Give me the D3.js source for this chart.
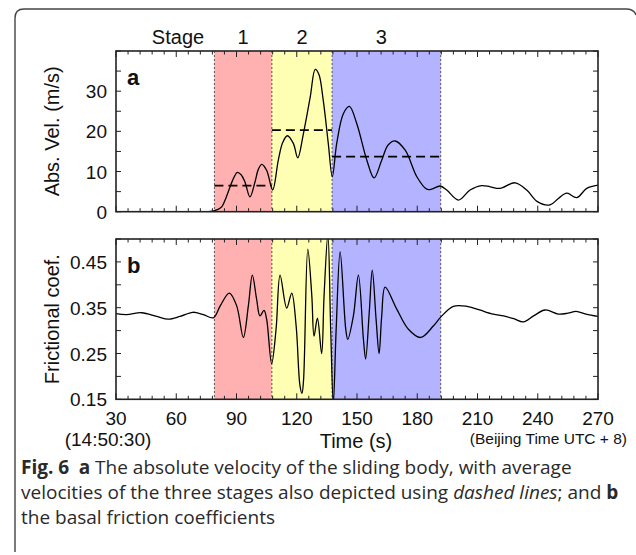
<!DOCTYPE html>
<html>
<head>
<meta charset="utf-8">
<script src="https://cdn.jsdelivr.net/npm/d3@7"></script>
<style>
  body { margin: 0; background: #fff; }
  svg text { font-family: "Liberation Sans", Arial, sans-serif; fill: #111; }
  .caption text { font-family: "Open Sans", "Noto Sans", sans-serif; fill: #2a2a2a; }
</style>
</head>
<body>
<div id="chart"></div>
<script>
// Stage boundaries (s) and average velocities per stage (m/s)
const stageBounds = [79, 107.6, 137.6, 191.7];
const stageNames = ["1", "2", "3"];
const stageColors = ["#ffb0b0", "#ffffb4", "#b3b3ff"];
const stageAvg = [6.5, 20.3, 13.7];

// Panel a: absolute velocity
const velTime = [30, 60, 76, 78.5, 80.5, 82.6, 84.8, 86.8, 88.8, 90.4, 92.3, 94.2, 96.7, 99.2, 100.9, 102.6, 105.0, 108.0,
  110.8, 113.0, 115.3, 118.3, 120.5, 123.3, 126.7, 129.2, 131.0, 133.2, 135.7, 137.7, 139.9, 143.2, 146.2, 149.9,
  154.9, 158.5, 162.3, 165.5, 169.0, 174.0, 179.8, 184.7, 187.2, 191.4, 194.7, 200.5, 206.3, 212.1, 216.3, 221.2,
  228.7, 234.5, 239.8, 246.1, 250.3, 254.5, 259.4, 264.4, 270];
const velValue = [0, 0, 0, 0.2, 0.5, 1.2, 3.5, 6.2, 8.6, 9.8, 9.2, 7.4, 3.7, 7.4, 10.6, 11.8, 10.3, 5.4,
  12.8, 17.2, 18.9, 17.0, 13.4, 19.4, 28.5, 35.4, 34.2, 27.7, 17.0, 8.7, 17.0, 24.4, 26.2, 21.9,
  12.8, 8.4, 12.8, 16.6, 17.6, 15.3, 8.7, 5.6, 5.6, 6.4, 5.4, 2.9, 5.4, 6.5, 6.2, 5.8,
  7.2, 5.4, 2.5, 1.7, 3.3, 4.6, 3.5, 5.8, 6.6];

// Panel b: frictional coefficient
const fricTime = [30, 35.3, 42.8, 50.3, 56.0, 61.9, 68.2, 73.5, 78.5, 81.9, 86.4, 90.1, 93.4, 95.9, 97.9, 100.0, 101.7,
  103.7, 105.0, 107.5, 109.7, 111.7, 115.0, 117.5, 119.7, 121.6, 122.6, 123.4, 125.5, 127.5, 128.6, 130.3, 132.4, 133.6,
  135.5, 136.9, 138.2, 139.6, 141.6, 144.4, 145.4, 148.2, 150.7, 153.2, 154.3, 156.1, 157.6, 159.5, 161.0, 162.3,
  164.0, 169.8, 175.6, 181.7, 188.0, 192.0, 198.0, 204.7, 211.0, 217.9, 223.0, 228.0, 232.9, 237.9, 243.7, 250.3,
  255.0, 259.1, 264.0, 270];
const fricValue = [0.337, 0.335, 0.339, 0.331, 0.325, 0.331, 0.340, 0.335, 0.328, 0.354, 0.382, 0.354, 0.285, 0.354, 0.421, 0.369, 0.332,
  0.344, 0.325, 0.228, 0.303, 0.421, 0.349, 0.382, 0.310, 0.180, 0.163, 0.193, 0.478, 0.376, 0.288, 0.327, 0.250, 0.376,
  0.510, 0.303, 0.140, 0.300, 0.472, 0.303, 0.281, 0.332, 0.421, 0.281, 0.238, 0.340, 0.432, 0.325, 0.250, 0.332,
  0.395, 0.347, 0.303, 0.285, 0.310, 0.331, 0.353, 0.353, 0.345, 0.336, 0.332, 0.326, 0.319, 0.332, 0.345, 0.336,
  0.338, 0.342, 0.336, 0.331];

// Axis ticks
const xTicks = [30, 60, 90, 120, 150, 180, 210, 240, 270];
const velTicks = [0, 10, 20, 30];
const fricTicks = [0.15, 0.25, 0.35, 0.45];
const fricTickLabels = ["0.15", "0.25", "0.35", "0.45"];

const W = 636, H = 555;
const left = 116, right = 598;

const svg = d3.select("#chart").append("svg")
  .attr("width", W).attr("height", H);

// Outer rounded border (open at the bottom)
svg.append("path")
  .attr("d", "M15,552 L15,18 Q15,9 24,9 L626,9 Q634,9 636,15")
  .attr("fill", "none").attr("stroke", "#444").attr("stroke-width", 1.4);

const x = d3.scaleLinear().domain([30, 270]).range([left, right]);

function panel(top, bottom, yDomain, tickVals, tickLabels, minorStep, times, values, avg, tag, ylabel, id) {
  const y = d3.scaleLinear().domain(yDomain).range([bottom, top]);
  const g = svg.append("g");

  g.append("clipPath").attr("id", id)
    .append("rect").attr("x", left).attr("y", top).attr("width", right - left).attr("height", bottom - top);

  // Stage shading
  stageNames.forEach((s, i) => {
    g.append("rect")
      .attr("x", x(stageBounds[i])).attr("y", top)
      .attr("width", x(stageBounds[i + 1]) - x(stageBounds[i]))
      .attr("height", bottom - top)
      .attr("fill", stageColors[i]);
  });
  stageBounds.forEach(b => {
    g.append("line")
      .attr("x1", x(b)).attr("x2", x(b)).attr("y1", top).attr("y2", bottom)
      .attr("stroke", "#555").attr("stroke-width", 1).attr("stroke-dasharray", "2,2");
  });

  // Average velocity dashes
  if (avg) {
    avg.forEach((v, i) => {
      g.append("line")
        .attr("x1", x(stageBounds[i])).attr("x2", x(stageBounds[i + 1]))
        .attr("y1", y(v)).attr("y2", y(v))
        .attr("stroke", "#000").attr("stroke-width", 1.6).attr("stroke-dasharray", "9,5");
    });
  }

  // Curve
  const line = d3.line()
    .x((d, i) => x(times[i]))
    .y(d => y(d))
    .curve(d3.curveCatmullRom.alpha(0.5));
  g.append("path")
    .datum(values)
    .attr("clip-path", `url(#${id})`)
    .attr("fill", "none").attr("stroke", "#000").attr("stroke-width", 1.3)
    .attr("d", line);

  // Ticks (all inward, mirrored on all four sides)
  const xMinor = d3.range(30, 271, 6);
  const axisCol = "#222";
  xMinor.forEach(t => {
    const len = (t - 30) % 30 === 0 ? 6 : 3.5;
    g.append("line").attr("x1", x(t)).attr("x2", x(t)).attr("y1", bottom).attr("y2", bottom - len)
      .attr("stroke", axisCol).attr("stroke-width", 1);
    g.append("line").attr("x1", x(t)).attr("x2", x(t)).attr("y1", top).attr("y2", top + len)
      .attr("stroke", axisCol).attr("stroke-width", 1);
  });
  const yMinor = d3.range(yDomain[0], yDomain[1] + 1e-9, minorStep);
  yMinor.forEach(v => {
    g.append("line").attr("x1", left).attr("x2", left + 5).attr("y1", y(v)).attr("y2", y(v))
      .attr("stroke", axisCol).attr("stroke-width", 1);
    g.append("line").attr("x1", right).attr("x2", right - 5).attr("y1", y(v)).attr("y2", y(v))
      .attr("stroke", axisCol).attr("stroke-width", 1);
  });

  // Frame
  g.append("rect").attr("x", left).attr("y", top).attr("width", right - left).attr("height", bottom - top)
    .attr("fill", "none").attr("stroke", "#222").attr("stroke-width", 1.6);

  // Y tick labels
  tickVals.forEach((v, i) => {
    g.append("text").attr("x", left - 9).attr("y", y(v) + 7)
      .attr("text-anchor", "end").style("font-size", "19px")
      .text(tickLabels[i]);
  });

  // Panel tag
  g.append("text").attr("x", 127).attr("y", top + 34)
    .style("font-size", "22px").style("font-weight", "bold").text(tag);

  // Y axis label
  g.append("text")
    .attr("transform", `translate(59,${(top + bottom) / 2}) rotate(-90)`)
    .attr("text-anchor", "middle").style("font-size", "20px")
    .text(ylabel);
  return y;
}

panel(51, 211.7, [0, 40], velTicks, velTicks.map(String), 5, velTime, velValue, stageAvg, "a", "Abs. Vel. (m/s)", "clipA");
panel(239, 399.3, [0.15, 0.5], fricTicks, fricTickLabels, 0.05, fricTime, fricValue, null, "b", "Frictional coef.", "clipB");

// Stage labels
svg.append("text").attr("x", 178).attr("y", 44).attr("text-anchor", "middle")
  .style("font-size", "20px").text("Stage");
stageNames.forEach((s, i) => {
  svg.append("text")
    .attr("x", (x(stageBounds[i]) + x(stageBounds[i + 1])) / 2 - (i === 2 ? 5 : 0))
    .attr("y", 44).attr("text-anchor", "middle")
    .style("font-size", "20px").text(s);
});

// X tick labels
xTicks.forEach(t => {
  svg.append("text").attr("x", x(t)).attr("y", 425).attr("text-anchor", "middle")
    .style("font-size", "19px").text(t);
});
svg.append("text").attr("x", 108).attr("y", 446).attr("text-anchor", "middle")
  .style("font-size", "19px").text("(14:50:30)");
svg.append("text").attr("x", 356).attr("y", 448).attr("text-anchor", "middle")
  .style("font-size", "20px").text("Time (s)");
svg.append("text").attr("x", 627).attr("y", 444).attr("text-anchor", "end")
  .style("font-size", "15.5px").text("(Beijing Time UTC + 8)");

// Caption
const cap = svg.append("g").attr("class", "caption");
const l1 = cap.append("text").attr("x", 21).attr("y", 474).style("font-size", "19px");
l1.append("tspan").style("font-weight", "bold").text("Fig. 6");
l1.append("tspan").text("\u2002");
l1.append("tspan").style("font-weight", "bold").text("a");
l1.append("tspan").text(" The absolute velocity of the sliding body, with average");
const l2 = cap.append("text").attr("x", 21).attr("y", 499).style("font-size", "19px");
l2.append("tspan").text("velocities of the three stages also depicted using ");
l2.append("tspan").style("font-style", "italic").text("dashed lines");
l2.append("tspan").text("; and ");
l2.append("tspan").style("font-weight", "bold").text("b");
cap.append("text").attr("x", 21).attr("y", 524).style("font-size", "19px")
  .text("the basal friction coefficients");
</script>
</body>
</html>
